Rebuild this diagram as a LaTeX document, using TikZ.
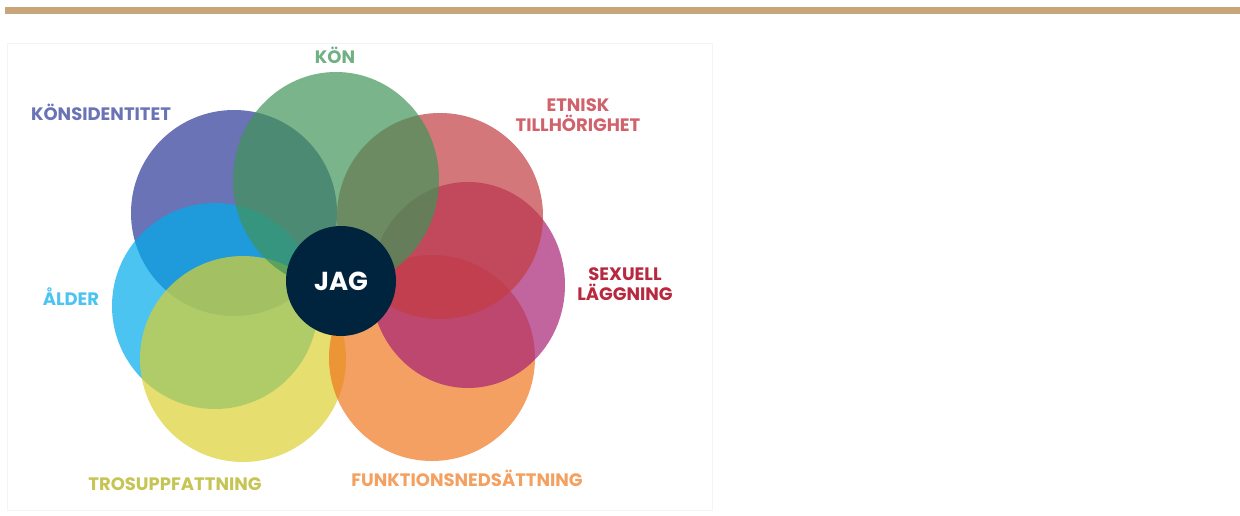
\documentclass[tikz,border=0pt]{standalone}
\usepackage{fontspec}
\usepackage{tikz}
\usetikzlibrary{shapes.geometric}
\newfontfamily\labelfont{Poppins}

\definecolor{barTan}{RGB}{201,166,121}
\definecolor{frameGray}{RGB}{244,244,244}
\definecolor{cIdent}{RGB}{42,55,149}
\definecolor{cKon}{RGB}{64,148,88}
\definecolor{cEtn}{RGB}{194,61,65}
\definecolor{cSex}{RGB}{168,34,117}
\definecolor{cFunk}{RGB}{239,119,31}
\definecolor{cTros}{RGB}{219,208,48}
\definecolor{cAlder}{RGB}{0,171,235}
\definecolor{cJag}{RGB}{0,36,61}
\definecolor{tIdent}{RGB}{106,115,181}
\definecolor{tKon}{RGB}{112,176,130}
\definecolor{tEtn}{RGB}{208,98,108}
\definecolor{tSex}{RGB}{184,40,62}
\definecolor{tAlder}{RGB}{76,196,241}
\definecolor{tTros}{RGB}{198,196,84}
\definecolor{tFunk}{RGB}{244,160,96}

\begin{document}
\begin{tikzpicture}[x = 1pt, y = -1pt,
    petal/.style = {ellipse, minimum width = 206pt, minimum height = 206pt, inner sep = 0pt, fill opacity = 0.7},
    tag/.style = {font = \labelfont\bfseries\fontsize{18}{20}\selectfont, align = center, inner sep = 0pt}]
  \useasboundingbox (0,0) rectangle (1240,516);
  \fill[barTan] (5,7) rectangle (1240,14);
  \draw[frameGray] (7,43) rectangle (712,510);

  % circles, back to front
  \node[petal, fill = cIdent] (ident) at (234,213) {};
  \node[petal, fill = cAlder] (alder) at (215,306) {};
  \node[petal, fill = cTros] (tros) at (243,359) {};
  \node[petal, fill = cFunk] (funk) at (432,358) {};
  \node[petal, fill = cSex, minimum width = 194pt] (sex) at (468,285) {};
  \node[petal, fill = cEtn] (etn) at (440,216) {};
  \node[petal, fill = cKon, minimum height = 216pt] (kon) at (336,180) {};
  \node[circle, fill = cJag, minimum size = 110pt, inner sep = 0pt, text = white,
        font = \labelfont\bfseries\fontsize{26}{30}\selectfont] (jag) at (341,281) {JAG};

  % labels
  \node[tag, text = tIdent] (identLabel) at (101,112) {KÖNSIDENTITET};
  \node[tag, text = tKon] (konLabel) at (335,55) {KÖN};
  \node[tag, text = tEtn] (etnLabel) at (578,115) {ETNISK\\TILLHÖRIGHET};
  \node[tag, text = tSex] (sexLabel) at (625,284) {SEXUELL\\LÄGGNING};
  \node[tag, text = tAlder] (alderLabel) at (71,297) {ÅLDER};
  \node[tag, text = tTros] (trosLabel) at (175,484) {TROSUPPFATTNING};
  \node[tag, text = tFunk] (funkLabel) at (467,478) {FUNKTIONSNEDSÄTTNING};
\end{tikzpicture}
\end{document}
